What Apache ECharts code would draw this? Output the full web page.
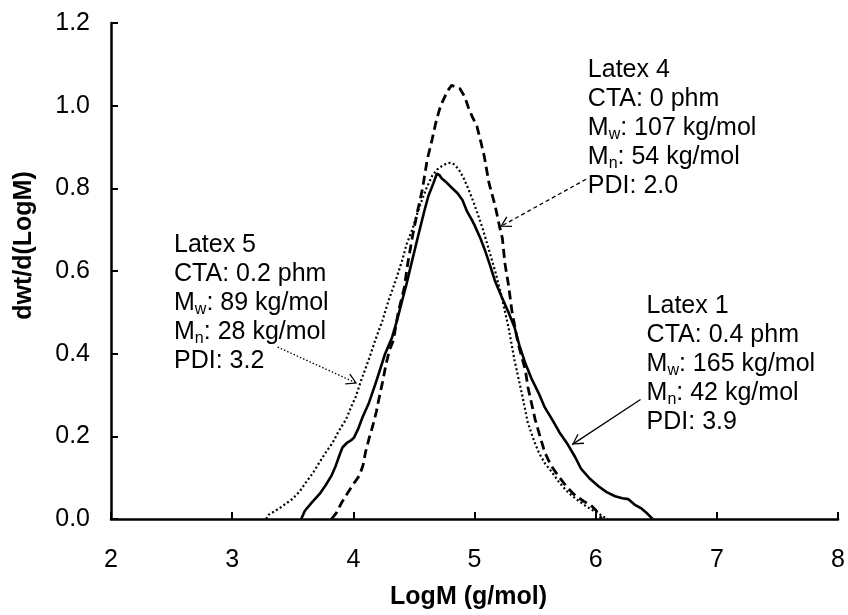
<!DOCTYPE html>
<html>
<head>
<meta charset="utf-8">
<script src="https://cdn.jsdelivr.net/npm/echarts@6/dist/echarts.min.js"></script>
<style>
  html, body { margin: 0; padding: 0; background: #fff; }
  #chart { width: 848px; height: 615px; }
</style>
</head>
<body>
<div id="chart"></div>
<script>
// Molecular weight distributions: dwt/d(LogM) versus LogM
const latex1LogM = [3.57, 3.60, 3.66, 3.72, 3.77, 3.82, 3.855, 3.89, 3.91, 3.95, 3.98, 4.005, 4.04, 4.074, 4.13, 4.18, 4.21, 4.26, 4.32, 4.36, 4.40, 4.44, 4.47, 4.51, 4.55, 4.59, 4.62, 4.66, 4.69, 4.71, 4.73, 4.77, 4.81, 4.86, 4.90, 4.94, 4.97, 5.00, 5.05, 5.09, 5.13, 5.17, 5.22, 5.28, 5.33, 5.37, 5.42, 5.47, 5.53, 5.58, 5.64, 5.70, 5.77, 5.83, 5.88, 5.95, 6.02, 6.09, 6.16, 6.22, 6.27, 6.32, 6.38, 6.43, 6.47];
const latex1Dw   = [0.0, 0.02, 0.041, 0.060, 0.081, 0.105, 0.129, 0.158, 0.173, 0.185, 0.190, 0.197, 0.218, 0.245, 0.282, 0.325, 0.352, 0.398, 0.440, 0.480, 0.525, 0.570, 0.607, 0.655, 0.703, 0.750, 0.782, 0.812, 0.836, 0.832, 0.824, 0.814, 0.802, 0.788, 0.772, 0.743, 0.728, 0.711, 0.678, 0.647, 0.612, 0.575, 0.540, 0.500, 0.464, 0.420, 0.376, 0.340, 0.304, 0.270, 0.241, 0.210, 0.180, 0.150, 0.121, 0.098, 0.080, 0.065, 0.055, 0.050, 0.048, 0.035, 0.025, 0.012, 0.0];

const latex4LogM = [3.82, 3.86, 3.90, 3.94, 3.99, 4.05, 4.08, 4.10, 4.13, 4.16, 4.19, 4.21, 4.24, 4.27, 4.30, 4.33, 4.37, 4.42, 4.45, 4.49, 4.53, 4.57, 4.61, 4.65, 4.68, 4.71, 4.73, 4.76, 4.79, 4.81, 4.84, 4.88, 4.92, 4.95, 4.98, 5.02, 5.05, 5.08, 5.12, 5.17, 5.21, 5.23, 5.25, 5.28, 5.31, 5.36, 5.42, 5.44, 5.50, 5.54, 5.58, 5.63, 5.69, 5.76, 5.83, 5.90, 5.96, 6.00, 6.05];
const latex4Dw   = [0.0, 0.015, 0.038, 0.057, 0.080, 0.105, 0.130, 0.161, 0.195, 0.225, 0.260, 0.289, 0.330, 0.375, 0.410, 0.432, 0.500, 0.559, 0.620, 0.687, 0.745, 0.798, 0.870, 0.918, 0.958, 0.990, 1.006, 1.025, 1.041, 1.049, 1.046, 1.041, 1.021, 0.995, 0.974, 0.950, 0.915, 0.878, 0.812, 0.758, 0.703, 0.679, 0.620, 0.567, 0.500, 0.424, 0.360, 0.320, 0.241, 0.200, 0.161, 0.130, 0.105, 0.078, 0.057, 0.043, 0.033, 0.022, 0.0];

const latex5LogM = [3.28, 3.30, 3.39, 3.50, 3.56, 3.61, 3.67, 3.72, 3.77, 3.83, 3.88, 3.94, 3.98, 4.02, 4.07, 4.13, 4.18, 4.24, 4.29, 4.35, 4.40, 4.44, 4.49, 4.53, 4.57, 4.61, 4.65, 4.69, 4.73, 4.77, 4.80, 4.83, 4.87, 4.91, 4.95, 4.99, 5.03, 5.07, 5.12, 5.17, 5.22, 5.28, 5.33, 5.39, 5.44, 5.49, 5.53, 5.58, 5.64, 5.70, 5.77, 5.84, 5.91, 5.97, 6.02, 6.06, 6.10];
const latex5Dw   = [0.0, 0.010, 0.026, 0.049, 0.068, 0.089, 0.113, 0.137, 0.160, 0.185, 0.213, 0.241, 0.270, 0.296, 0.340, 0.388, 0.432, 0.480, 0.528, 0.578, 0.623, 0.665, 0.703, 0.742, 0.775, 0.805, 0.830, 0.845, 0.854, 0.860, 0.862, 0.858, 0.846, 0.825, 0.798, 0.768, 0.735, 0.700, 0.650, 0.600, 0.543, 0.464, 0.384, 0.304, 0.233, 0.190, 0.161, 0.135, 0.113, 0.088, 0.065, 0.048, 0.033, 0.022, 0.014, 0.006, 0.0];

// Sample details shown in the annotations
const sampleNames = ['Latex 1', 'Latex 4', 'Latex 5'];
const ctaPhm      = ['0.4', '0', '0.2'];
const mwKgMol     = [165, 107, 89];
const mnKgMol     = [42, 54, 28];
const pdiValues   = ['3.9', '2.0', '3.2'];

// Axis ranges
const xMin = 2, xMax = 8, xStep = 1;
const yMin = 0, yMax = 1.2, yStep = 0.2;

const FONT = '"Liberation Sans", Arial, Helvetica, sans-serif';
const ARROW_HEAD = 'path://M0,-13 L0.01,-13 Z M0,0 L7,12 L5.6,12.8 L0,2.6 L-5.6,12.8 L-7,12 Z';

function zip(xs, ys) { return xs.map((x, i) => [x, ys[i]]); }

function noteText(i) {
  return [
    '{t|' + sampleNames[i] + '}',
    '{t|CTA: ' + ctaPhm[i] + ' phm}',
    '{t|M}{s|w}{t|: ' + mwKgMol[i] + ' kg/mol}',
    '{t|M}{s|n}{t|: ' + mnKgMol[i] + ' kg/mol}',
    '{t|PDI: ' + pdiValues[i] + '}'
  ].join('\n');
}

const richStyles = {
  t: { fontSize: 25, lineHeight: 29, color: '#000', fontFamily: FONT },
  s: { fontSize: 16, lineHeight: 13, verticalAlign: 'bottom', color: '#000', fontFamily: FONT }
};

function note(i, anchor) {
  return {
    symbol: 'circle',
    symbolSize: 0,
    data: [{
      coord: anchor,
      label: {
        show: true,
        position: [0, 0],
        align: 'left',
        verticalAlign: 'top',
        formatter: noteText(i),
        rich: richStyles
      }
    }]
  };
}

function arrow(from, to, type) {
  return {
    silent: true,
    symbol: ['none', ARROW_HEAD],
    symbolSize: [12, 22],
    label: { show: false },
    lineStyle: { color: '#000', width: 1.3, type: type },
    emphasis: { disabled: true },
    data: [[{ coord: from }, { coord: to }]]
  };
}

const chart = echarts.init(document.getElementById('chart'), null, { renderer: 'canvas' });

chart.setOption({
  animation: false,
  backgroundColor: '#fff',
  grid: { left: 111, right: 7, top: 23, bottom: 91, containLabel: false },
  xAxis: {
    type: 'value',
    min: xMin, max: xMax, interval: xStep,
    name: 'LogM (g/mol)',
    nameLocation: 'middle',
    nameGap: 66,
    nameTextStyle: { fontSize: 25, fontWeight: 'bold', color: '#000', fontFamily: FONT, padding: [0, 12, 0, 0] },
    axisLine: { show: true, onZero: false, lineStyle: { color: '#000', width: 2.5 } },
    axisTick: { show: true, inside: true, length: 7, lineStyle: { color: '#000', width: 2 } },
    axisLabel: { color: '#000', fontSize: 25, margin: 29, fontFamily: FONT, showMaxLabel: true, showMinLabel: true },
    splitLine: { show: false }
  },
  yAxis: {
    type: 'value',
    min: yMin, max: yMax, interval: yStep,
    name: 'dwt/d(LogM)',
    nameLocation: 'middle',
    nameGap: 74,
    nameRotate: 90,
    nameTextStyle: { fontSize: 25, fontWeight: 'bold', color: '#000', fontFamily: FONT, padding: [0, 0, 0, 51] },
    axisLine: { show: true, lineStyle: { color: '#000', width: 2.5 } },
    axisTick: { show: true, inside: true, length: 7, lineStyle: { color: '#000', width: 2 } },
    axisLabel: { color: '#000', fontSize: 25, margin: 21, fontFamily: FONT, formatter: v => v.toFixed(1) },
    splitLine: { show: false }
  },
  series: [
    {
      name: sampleNames[0],
      type: 'line',
      silent: true,
      showSymbol: false,
      symbol: 'none',
      data: zip(latex1LogM, latex1Dw),
      lineStyle: { color: '#000', width: 2.6, type: 'solid' },
      markLine: arrow([6.37, 0.289], [5.805, 0.180], 'solid'),
      markPoint: note(0, [6.42, 0.550])
    },
    {
      name: sampleNames[1],
      type: 'line',
      silent: true,
      showSymbol: false,
      symbol: 'none',
      data: zip(latex4LogM, latex4Dw),
      lineStyle: { color: '#000', width: 2.8, type: [9, 5] },
      markLine: arrow([5.92, 0.822], [5.211, 0.707], [4, 3]),
      markPoint: note(1, [5.935, 1.120])
    },
    {
      name: sampleNames[2],
      type: 'line',
      silent: true,
      showSymbol: false,
      symbol: 'none',
      data: zip(latex5LogM, latex5Dw),
      lineStyle: { color: '#000', width: 2.2, type: [2, 2.5] },
      markLine: arrow([3.375, 0.416], [4.032, 0.328], [1.5, 2]),
      markPoint: note(2, [2.52, 0.697])
    }
  ]
});
</script>
</body>
</html>
